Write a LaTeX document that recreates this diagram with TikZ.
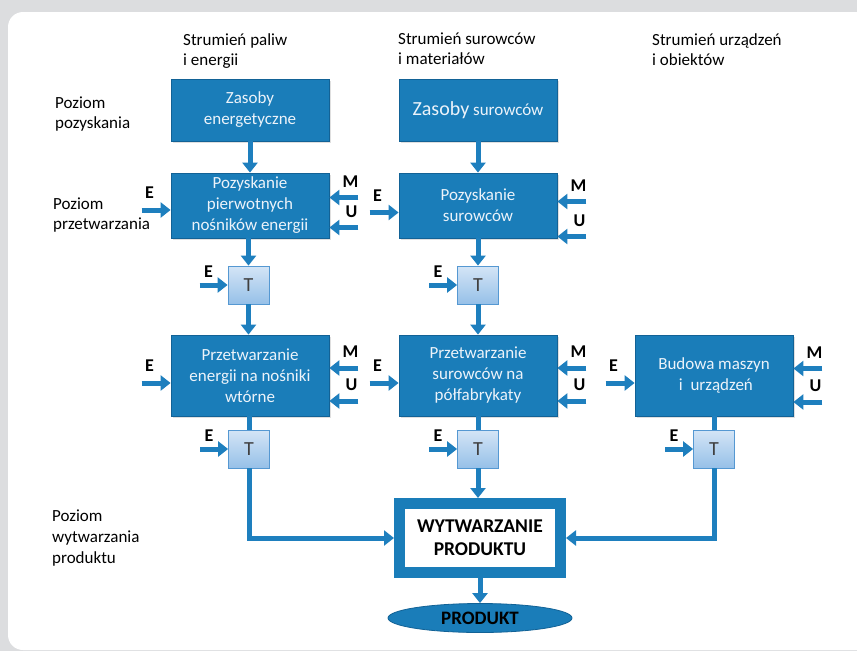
\documentclass[tikz,border=0pt]{standalone}
\usepackage{fontspec}
\setmainfont{Carlito}
\usetikzlibrary{arrows.meta,shapes.geometric,shadows}
\definecolor{bg}{RGB}{220,221,223}
\definecolor{boxblue}{RGB}{26,125,185}
\definecolor{boxedge}{RGB}{18,98,150}
\definecolor{arrowblue}{RGB}{30,127,190}
\definecolor{ttop}{RGB}{212,229,246}
\definecolor{tbot}{RGB}{150,192,232}
\definecolor{tedge}{RGB}{85,152,210}
\definecolor{boxtext}{RGB}{236,243,250}
\begin{document}
\begin{tikzpicture}[x=1pt,y=-1pt,
  bluebox/.style={draw=boxedge, line width=0.8pt, fill=boxblue, minimum width=158pt,
    text=boxtext, align=center, font=\fontsize{17}{21}\selectfont, inner sep=0pt,
    drop shadow={shadow xshift=1.5pt, shadow yshift=-1.5pt, opacity=0.25}},
  tbox/.style={draw=tedge, line width=0.8pt, top color=ttop, bottom color=tbot,
    minimum width=41pt, minimum height=38pt, inner sep=0pt,
    font=\fontsize{20}{20}\selectfont, text=black!75},
  flow/.style={draw=arrowblue, line width=5pt, -{Triangle[width=15pt,length=10pt]}},
  link/.style={draw=arrowblue, line width=5pt},
  lab/.style={font=\bfseries\fontsize{18}{18}\selectfont, inner sep=0pt},
  txt/.style={align=left, font=\fontsize{17}{20}\selectfont, anchor=north west, inner sep=0pt}
]
\useasboundingbox (0,0) rectangle (857,651);
\fill[bg] (0,0) rectangle (857,651);
\fill[white, rounded corners=15pt] (8,12) rectangle (880,650);

% headers
\node[txt] (h1) at (183,33) {Strumień paliw\\i energii};
\node[txt] (h2) at (398,33) {Strumień surowców\\i materiałów};
\node[txt] (h3) at (652,33) {Strumień urządzeń\\i obiektów};
\node[txt] (l1) at (55,97) {Poziom\\pozyskania};
\node[txt] (l2) at (53,198) {Poziom\\przetwarzania};
\node[txt, font=\fontsize{17}{21}\selectfont] (l3) at (52,510) {Poziom\\wytwarzania\\produktu};

% boxes
\node[bluebox, minimum height=62pt] (z1) at (250,110) {Zasoby\\energetyczne};
\node[bluebox, minimum height=62pt] (z2) at (478,110) {{\fontsize{20}{22}\selectfont Zasoby} surowców};
\node[bluebox, minimum height=65pt] (p1) at (250,205.5) {Pozyskanie\\pierwotnych\\nośników energii};
\node[bluebox, minimum height=65pt] (p2) at (478,205.5) {Pozyskanie\\surowców};
\node[tbox] (t1) at (248.5,285) {T};
\node[tbox] (t2) at (478,285) {T};
\node[bluebox, minimum height=81pt] (r1) at (250,375.5) {Przetwarzanie\\energii na nośniki\\wtórne};
\node[bluebox, minimum height=81pt] (r2) at (478,375.5) {Przetwarzanie\\surowców na\\półfabrykaty};
\node[bluebox, minimum height=81pt] (r3) at (714,375.5) {Budowa maszyn\\\ i\ \ urządzeń};
\node[tbox] (t3) at (249,449) {T};
\node[tbox] (t4) at (478,449) {T};
\node[tbox] (t5) at (714,449) {T};
\node[draw=boxblue, line width=11pt, fill=white, minimum width=161pt, minimum height=69pt,
  align=center, font=\bfseries\fontsize{19.5}{23}\selectfont, inner sep=0pt,
  drop shadow={shadow xshift=1.5pt, shadow yshift=-1.5pt, opacity=0.25}] (w) at (480,538) {WYTWARZANIE\\PRODUKTU};
\node[ellipse, draw=boxedge, line width=0.8pt, fill=boxblue, minimum width=184pt, minimum height=29pt,
  inner sep=0pt, font=\bfseries\fontsize{19}{19}\selectfont] (prod) at (480,618) {PRODUKT};

% vertical flows
\draw[flow] (z1) -- (p1);
\draw[flow] (z2) -- (p2);
\draw[flow] (p1.south -| t1) -- (t1);
\draw[flow] (p2) -- (t2);
\draw[flow] (t1) -- (t1 |- r1.north);
\draw[flow] (t2) -- (r2);
\draw[link] (r1.south -| t3) -- (t3);
\draw[link] (r2) -- (t4);
\draw[link] (r3) -- (t5);
\draw[flow] (t4.south) -- (t4.south |- w.north);
\draw[flow] (t3.south) |- (w.west);
\draw[flow] (t5.south) |- (w.east);
\draw[flow] (w.south -| prod.north) -- (prod.north);

% side inputs: E
\foreach \n/\dy in {p1/4.5, p2/7, r1/7.5, r2/7.5, r3/7.5} {
  \draw[flow] ([shift={(-29,\dy)}]\n.west) -- ([shift={(0,\dy)}]\n.west);
  \node[lab] at ([shift={(-21,\dy-17)}]\n.west) {E};
}
\foreach \n in {t1,t2,t3,t4,t5} {
  \draw[flow] ([shift={(-28,0)}]\n.west) -- (\n.west);
  \node[lab] at ([shift={(-19,-13)}]\n.west) {E};
}
% side inputs: M and U
\foreach \n/\dm/\du in {p1/-8/22, p2/-4/31, r1/-7.5/25.5, r2/-7.5/25.5, r3/-7/26.5} {
  \draw[flow] ([shift={(29,\dm)}]\n.east) -- ([shift={(0,\dm)}]\n.east);
  \node[lab] at ([shift={(21,\dm-16)}]\n.east) {M};
  \draw[flow] ([shift={(29,\du)}]\n.east) -- ([shift={(0,\du)}]\n.east);
  \node[lab] at ([shift={(22,\du-16)}]\n.east) {U};
}
\end{tikzpicture}
\end{document}
